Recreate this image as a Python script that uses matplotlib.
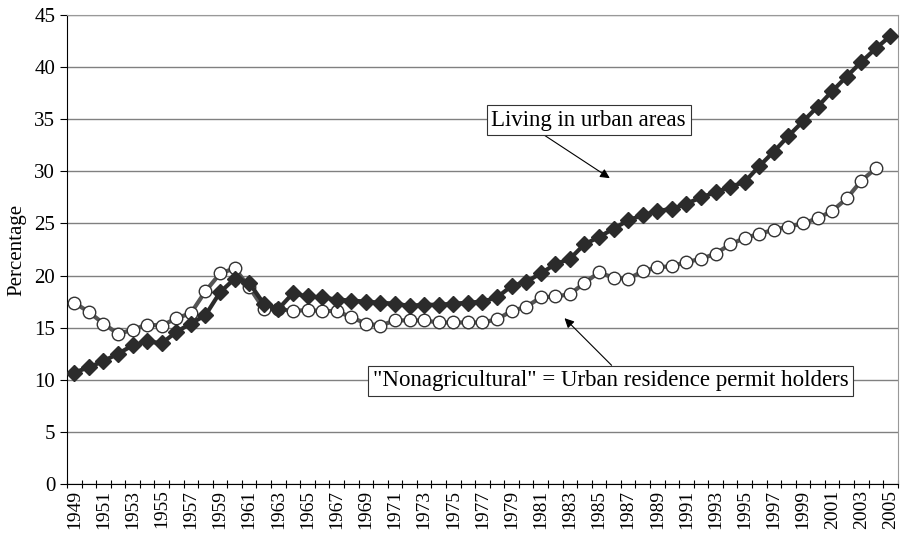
import matplotlib.pyplot as plt
import numpy as np

plt.rcParams["font.family"] = ["Liberation Serif", "DejaVu Serif"]

years = list(range(1949, 2006))

urban = [10.7, 11.2, 11.8, 12.5, 13.3, 13.7, 13.5, 14.6, 15.4, 16.2,
         18.4, 19.7, 19.3, 17.3, 16.8, 18.3, 18.0, 17.9, 17.7, 17.6,
         17.5, 17.4, 17.3, 17.1, 17.2, 17.2, 17.3, 17.4, 17.5, 17.9,
         19.0, 19.4, 20.2, 21.1, 21.6, 23.0, 23.7, 24.5, 25.3, 25.8,
         26.2, 26.4, 26.9, 27.5, 28.0, 28.5, 29.0, 30.5, 31.9, 33.4,
         34.8, 36.2, 37.7, 39.1, 40.5, 41.8, 43.0]

nonagri = [17.4, 16.5, 15.4, 14.4, 14.8, 15.3, 15.2, 15.9, 16.4, 18.5,
           20.2, 20.7, 18.9, 16.8, 16.8, 16.6, 16.7, 16.6, 16.6, 16.0,
           15.4, 15.2, 15.7, 15.7, 15.7, 15.5, 15.5, 15.5, 15.5, 15.8,
           16.6, 17.0, 17.9, 18.0, 18.2, 19.3, 20.3, 19.8, 19.7, 20.4,
           20.8, 20.9, 21.3, 21.6, 22.1, 23.0, 23.6, 24.0, 24.4, 24.7,
           25.0, 25.5, 26.2, 27.4, 29.1, 30.3]

x_urban = np.arange(len(urban))
x_nonagri = np.arange(len(nonagri))

fig = plt.figure(figsize=(9.01, 5.35), dpi=100)
ax = fig.add_axes([0.0744, 0.0953, 0.922, 0.8766])

ax.plot(x_nonagri, nonagri, "-o", color="#555555", lw=3,
        markerfacecolor="white", markeredgecolor="#333333",
        markeredgewidth=1.0, markersize=9, zorder=3)
ax.plot(x_urban, urban, "-D", color="#2b2b2b", lw=3,
        markerfacecolor="#2b2b2b", markeredgecolor="#2b2b2b",
        markersize=8, zorder=4)

ax.set_xlim(-0.5, len(years) - 0.5)
ax.set_ylim(0, 45)
ax.set_yticks(range(0, 46, 5))
ax.yaxis.grid(True, color="#808080", lw=1.0)
ax.set_axisbelow(True)

ax.set_xticks(np.arange(-0.5, len(years), 1.0))
ax.set_xticklabels([])
ax.set_xticks(np.arange(0, len(years), 2), minor=True)
ax.set_xticklabels([str(y) for y in years[::2]], minor=True, rotation=90,
                   fontsize=14)
ax.tick_params(axis="x", which="major", direction="inout", length=6)
ax.tick_params(axis="x", which="minor", length=0, pad=4)
ax.tick_params(axis="y", direction="out", length=5, labelsize=15)

ax.set_ylabel("Percentage", fontsize=15, labelpad=6)

for side in ["top", "right"]:
    ax.spines[side].set_color("#999999")

ax.annotate("", xy=(36.9, 29.2), xytext=(32.0, 33.7),
            arrowprops=dict(arrowstyle="-|>", color="black", lw=0.8,
                            mutation_scale=14), zorder=5)
ax.text(35.3, 34.9, "Living in urban areas", fontsize=16.5, ha="center",
        va="center", zorder=6,
        bbox=dict(boxstyle="square,pad=0.2", fc="white", ec="#333333", lw=0.8))

ax.annotate("", xy=(33.5, 16.1), xytext=(37.0, 11.2),
            arrowprops=dict(arrowstyle="-|>", color="black", lw=0.8,
                            mutation_scale=14), zorder=5)
ax.text(36.8, 9.9, "\"Nonagricultural\" = Urban residence permit holders",
        fontsize=16.5, ha="center", va="center", zorder=6,
        bbox=dict(boxstyle="square,pad=0.2", fc="white", ec="#333333", lw=0.8))

fig.savefig("out.png", dpi=100)
